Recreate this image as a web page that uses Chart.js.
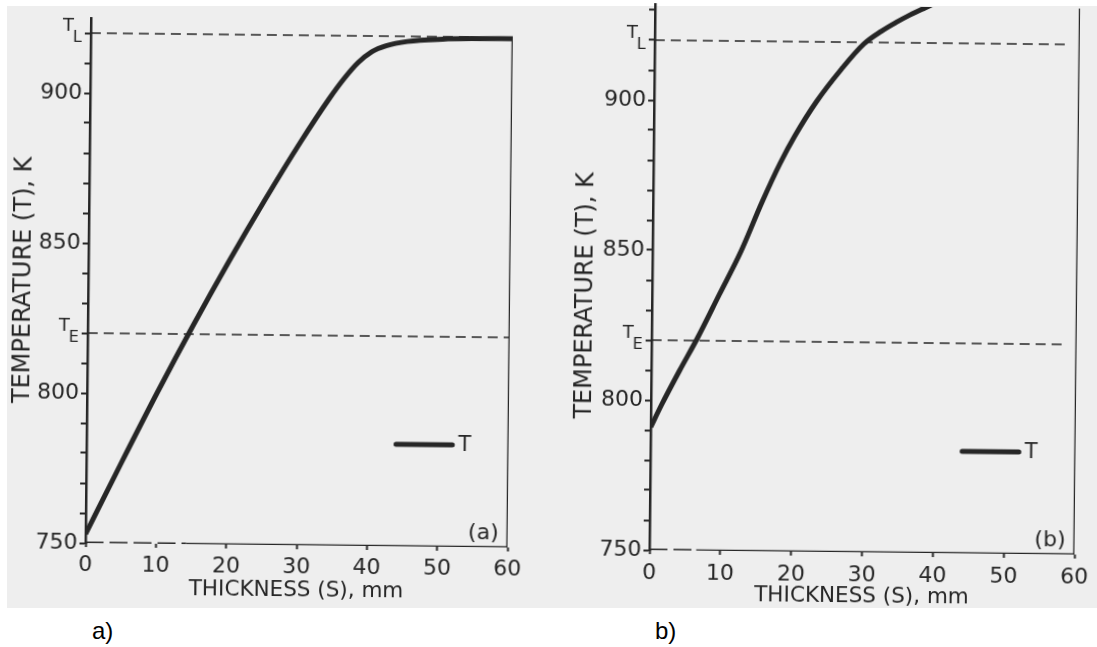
<!DOCTYPE html>
<html>
<head>
<meta charset="utf-8">
<script src="https://cdn.jsdelivr.net/npm/chart.js@4.4.1/dist/chart.umd.min.js"></script>
<style>
  body { margin: 0; background: #fff; width: 1097px; height: 647px; position: relative; overflow: hidden; }
  #paper { position: absolute; left: 7px; top: 6px; width: 1090px; height: 602px; background: #eeeeee; }
  canvas { position: absolute; transform: rotate(0.6deg); transform-origin: 50% 50%; }
  #chartA { left: 1px; top: 2px; }
  #chartB { left: 563px; top: 2px; }
  .cap { position: absolute; top: 617px; font: 24px "Liberation Sans", Arial, sans-serif; color: #000; }
</style>
</head>
<body>
<div id="paper"></div>
<canvas id="chartA" width="545" height="610"></canvas>
<canvas id="chartB" width="537" height="610"></canvas>
<div class="cap" style="left:92px">a)</div>
<div class="cap" style="left:655px">b)</div>

<script>
// values (thickness in mm, temperature in K)
const thicknessA = [0, 5, 10, 15, 20, 25, 30, 34, 36, 38, 40, 42, 45, 50, 55, 60];
const tempA      = [753, 777, 800.5, 823, 844.5, 865, 884.5, 899, 905.5, 911, 914.8, 916.8, 918.3, 919.2, 919.5, 919.6];

const thicknessB = [0, 1.5, 4, 6.5, 9.5, 12.5, 15.4, 17.9, 19.9, 22.9, 26.4, 29.5, 32, 34, 36, 38.1, 40];
const tempB      = [791, 798.5, 810, 821, 835.5, 850, 866.5, 879.5, 888.5, 900, 911, 919.4, 923.8, 926.7, 929.3, 931.7, 933.8];

const T_L = 920;               // liquidus
const T_E = 820;               // eutectic
const yMajor = [750, 800, 850, 900];
const yTicks = [750, 760, 770, 780, 790, 800, 810, 820, 830, 840, 850, 860, 870, 880, 890, 900, 910, 920, 930];
const legendS = [44, 52];      // where the "— T" key sits
const legendT = 784;
const yTitle = 'TEMPERATURE (T), K';
const xTitle = 'THICKNESS (S), mm';

const ink = '#262626';
Chart.defaults.font.family = '"DejaVu Sans", sans-serif';
Chart.defaults.color = ink;

function pts(xs, ys) {
  return xs.map((v, i) => ({x: v, y: ys[i]}));
}

// draws T_L / T_E labels, the key and the (a)/(b) tag
const decor = {
  id: 'decor',
  afterDraw(chart) {
    const {ctx, chartArea} = chart;
    const x = chart.scales.x, y = chart.scales.y;
    ctx.save();
    ctx.fillStyle = ink;
    ctx.strokeStyle = ink;

    [[T_L, 'L'], [T_E, 'E']].forEach(([v, sub]) => {
      const py = y.getPixelForValue(v);
      const rx = y.right - 9;
      ctx.textAlign = 'right';
      ctx.textBaseline = 'alphabetic';
      ctx.font = '16px "DejaVu Sans"';
      ctx.fillText(sub, rx, py + 9);
      const sw = ctx.measureText(sub).width;
      ctx.font = '18px "DejaVu Sans"';
      ctx.fillText('T', rx - sw + 1, py - 2);
    });

    const ly = y.getPixelForValue(legendT);
    const lx0 = x.getPixelForValue(legendS[0]);
    const lx1 = x.getPixelForValue(legendS[1]);
    ctx.lineWidth = 5;
    ctx.lineCap = 'round';
    ctx.beginPath();
    ctx.moveTo(lx0, ly);
    ctx.lineTo(lx1, ly);
    ctx.stroke();
    ctx.font = '21px "DejaVu Sans"';
    ctx.textAlign = 'left';
    ctx.textBaseline = 'middle';
    ctx.fillText(chart.data.datasets[0].label, lx1 + 6, ly + 1);

    ctx.font = '22px "DejaVu Sans"';
    ctx.textAlign = 'right';
    ctx.textBaseline = 'alphabetic';
    ctx.fillText(chart.options.tag, chartArea.right - 9, chartArea.bottom - 8);
    ctx.restore();
  }
};

function makePanel(id, p) {
  return new Chart(document.getElementById(id), {
    type: 'line',
    data: {
      datasets: [
        {label: 'T', data: pts(p.s, p.t), borderColor: ink, borderWidth: 5,
         pointRadius: 0, cubicInterpolationMode: 'monotone'},
        {label: 'TL', data: pts([0, p.dashEnd], [T_L, T_L]), borderColor: ink,
         borderWidth: 1.5, borderDash: [10, 6], pointRadius: 0},
        {label: 'TE', data: pts([0, p.dashEnd], [T_E, T_E]), borderColor: ink,
         borderWidth: 1.5, borderDash: [10, 6], pointRadius: 0},
        {label: 'base dash', data: pts([0, p.cross], [750, 750]), borderColor: ink,
         borderWidth: 3, borderDash: [18, 6], pointRadius: 0},
        {label: 'base', data: pts([p.cross, 60], [750, 750]), borderColor: ink,
         borderWidth: 2.5, pointRadius: 0},
        {label: 'frame', data: pts([60, 60], [750, p.frameTop]), borderColor: ink,
         borderWidth: 2.5, pointRadius: 0}
      ]
    },
    options: {
      tag: p.tag,
      responsive: false,
      animation: false,
      devicePixelRatio: 1,
      layout: {padding: {left: 0, top: p.padTop, right: p.padRight, bottom: 0}},
      plugins: {legend: {display: false}, tooltip: {enabled: false}},
      scales: {
        x: {
          type: 'linear', min: 0, max: 60,
          border: {display: false},
          grid: {drawOnChartArea: false, drawTicks: true, tickLength: 4, tickColor: ink, tickWidth: 2},
          ticks: {stepSize: 10, padding: p.xTickPad, font: {size: 22}, maxRotation: 0},
          title: {display: true, text: xTitle, font: {size: 21.5},
                  padding: {top: 0, bottom: p.xTitlePad}},
          afterFit(s) { s.height = p.xH; s.paddingLeft = 0; s.paddingRight = 0; }
        },
        y: {
          type: 'linear', min: 750, max: p.yMax,
          border: {display: true, color: ink, width: 2.5},
          grid: {drawOnChartArea: false, drawTicks: true, tickLength: 6, tickColor: ink, tickWidth: 2},
          ticks: {autoSkip: false, padding: 2, font: {size: 22},
                  callback: v => yMajor.includes(v) ? String(v) : ''},
          afterBuildTicks(s) { s.ticks = yTicks.filter(v => v <= p.yMax).map(v => ({value: v})); },
          // trailing spaces nudge the rotated title down a little (panel b sits lower)
          title: {display: true, text: yTitle + ' '.repeat(p.titleNudge), font: {size: 24},
                  padding: {top: p.yTitlePad, bottom: 0}},
          afterFit(s) { s.width = p.axisW; s.paddingTop = 0; s.paddingBottom = 0; }
        }
      }
    },
    plugins: [decor]
  });
}

makePanel('chartA', {
  s: thicknessA, t: tempA, yMax: 925, cross: 14.3, dashEnd: 60, frameTop: T_L, tag: '(a)',
  axisW: 87, padTop: 18, padRight: 36, xH: 67, xTickPad: 5, xTitlePad: 9, yTitlePad: 8, titleNudge: 0
});
makePanel('chartB', {
  s: thicknessB, t: tempB, yMax: 932, cross: 6.6, dashEnd: 58.5, frameTop: 932, tag: '(b)',
  axisW: 89, padTop: 4, padRight: 23, xH: 60, xTickPad: 6, xTitlePad: 3, yTitlePad: 8, titleNudge: 5
});
</script>
</body>
</html>
